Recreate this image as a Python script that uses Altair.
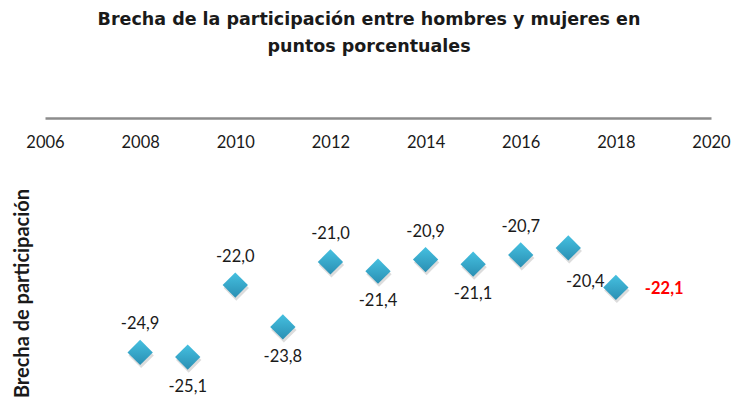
import altair as alt
import pandas as pd

years = [2008, 2009, 2010, 2011, 2012, 2013, 2014, 2015, 2016, 2017, 2018]
gap = [-24.9, -25.1, -22.0, -23.8, -21.0, -21.4, -20.9, -21.1, -20.7, -20.4, -22.1]
placement = ["above", "below", "above", "below", "above", "below",
             "above", "below", "above", "belowright", "right"]
x_ticks = [2006, 2008, 2010, 2012, 2014, 2016, 2018, 2020]

df = pd.DataFrame({"year": years, "gap": gap, "pos": placement})
df["label"] = [f"{v:.1f}".replace(".", ",") for v in gap]

FONT = "Lato"
W, H = 666, 282

x = alt.X("year:Q",
          scale=alt.Scale(domain=[2006, 2020], nice=False, zero=False),
          axis=alt.Axis(orient="top", values=x_ticks, format="d", title=None,
                        grid=False, ticks=False, domain=True, domainColor="#8c8c8c",
                        domainWidth=2.5, labelBaseline="top", labelPadding=-16,
                        labelFontSize=16.5, labelColor="#1a1a1a", labelFont=FONT,
                        labelFlush=False))
y = alt.Y("gap:Q",
          scale=alt.Scale(domain=[-26.95, -14.8], nice=False, zero=False),
          axis=alt.Axis(title="Brecha de participación", labels=False, ticks=False,
                        domain=False, grid=False, titleFont=FONT, titleFontSize=20,
                        titleFontWeight="bold", titleColor="#1a1a1a",
                        titleX=-13, titleY=175, titleAngle=-90))

base = alt.Chart(df)

shadow = base.mark_point(shape="diamond", filled=True, size=640, color="#9a9a9a",
                         opacity=0.35).encode(x=x, y=y, yOffset=alt.value(3), xOffset=alt.value(1))

points = base.mark_point(
    shape="diamond", filled=True, size=640, opacity=1,
    fill=alt.Gradient(gradient="linear",
                      stops=[alt.GradientStop(color="#45c0e0", offset=0),
                             alt.GradientStop(color="#2a8fb3", offset=1)],
                      x1=0, x2=0, y1=0, y2=1),
).encode(x=x, y=y)

def lab(pos, color="#1a1a1a", **kw):
    return base.transform_filter(alt.datum.pos == pos).mark_text(
        font=FONT, fontSize=16.5, color=color, baseline="middle", **kw
    ).encode(x=x, y=y, text="label:N")

above = lab("above", dy=-28)
below = lab("below", dy=30)
belowright = lab("belowright", dx=17, dy=34)
right = lab("right", color="#ff0000", dx=29, dy=2, align="left", fontWeight="bold")

chart = alt.layer(shadow, points, above, below, belowright, right).properties(
    width=W, height=H,
    autosize=alt.AutoSizeParams(type="none"),
    padding={"left": 37, "top": 110, "right": 22, "bottom": 8},
    title=alt.TitleParams(
        text=["Brecha de la participación entre hombres y mujeres en",
              "puntos porcentuales"],
        font="DejaVu Sans", fontSize=17.5, fontWeight="bold", color="#1a1a1a",
        anchor="middle", offset=63, dx=-9, lineHeight=27),
).configure_view(stroke=None)

chart.save("out.html", embed_options={"renderer": "svg", "actions": False})
